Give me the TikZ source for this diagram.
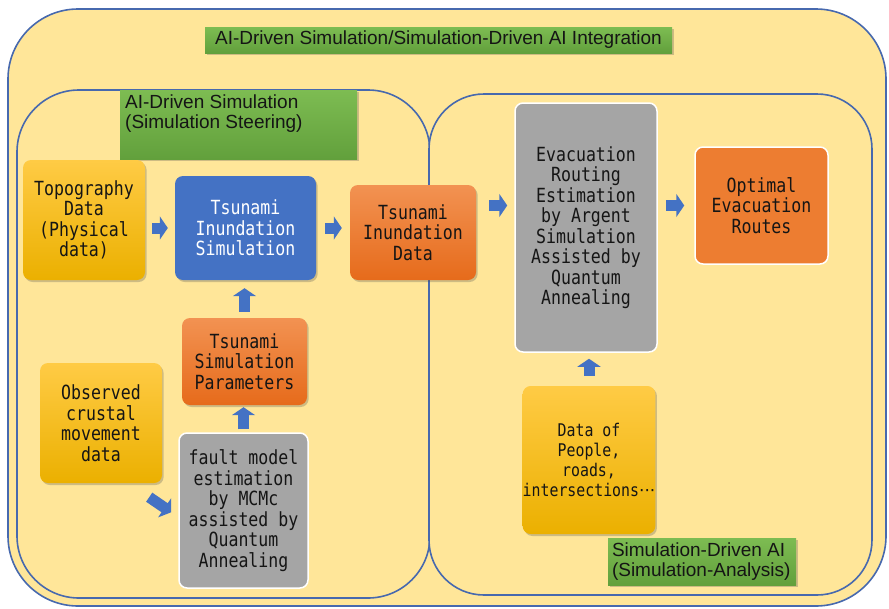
\documentclass[tikz,border=0pt]{standalone}
\usepackage{fontspec}
\setmainfont{Liberation Sans}
\newfontfamily\boxfont{DejaVu Sans Mono}[FakeStretch=0.85]
\newfontfamily\dotfont{DejaVu Sans}
\usetikzlibrary{arrows.meta,shadows,calc}

\definecolor{bgyellow}{HTML}{FFE699}
\definecolor{framecol}{HTML}{4769AE}
\definecolor{arrowblue}{HTML}{4472C4}
\definecolor{greentop}{HTML}{7DBC52}
\definecolor{greenbot}{HTML}{62A03C}
\definecolor{goldtop}{HTML}{FFCB45}
\definecolor{goldbot}{HTML}{EBB000}
\definecolor{orangetop}{HTML}{F29252}
\definecolor{orangebot}{HTML}{E66B1B}
\definecolor{orangeflat}{HTML}{ED7D31}
\definecolor{grayfill}{HTML}{A5A5A5}
\definecolor{bluefill}{HTML}{4472C4}
\definecolor{inktext}{HTML}{151515}

\tikzset{
  frame/.style={draw=framecol, line width=1.6pt, fill=bgyellow},
  softshadow/.style={drop shadow={opacity=0.28, shadow xshift=1.6pt, shadow yshift=-2pt, fill=black!70}},
  procbox/.style={rounded corners=8pt, align=center, inner sep=0pt,
    text=inktext, font=\boxfont\fontsize{19.5}{20.5}\selectfont},
  goldbox/.style={procbox, softshadow, top color=goldtop, bottom color=goldbot},
  orangebox/.style={procbox, softshadow, top color=orangetop, bottom color=orangebot},
  bluebox/.style={procbox, softshadow, fill=bluefill, text=white},
  graybox/.style={procbox, fill=grayfill, draw=white, line width=1.5pt},
  greenlabel/.style={softshadow, top color=greentop, bottom color=greenbot, inner sep=0pt},
  labeltext/.style={align=left, inner sep=0pt, text=inktext, font=\fontsize{19}{20}\selectfont},
  blockarrow/.style={draw=arrowblue, line width=11pt,
    -{Triangle[length=8pt, width=23pt]}},
}

\begin{document}
\begin{tikzpicture}[x=1pt, y=-1pt]
\useasboundingbox (0,0) rectangle (889,608);

% containers
\draw[frame, rounded corners=70pt] (8,9) rectangle (886,606);
\draw[frame, rounded corners=62pt] (17,90) rectangle (430,598);
\draw[frame, rounded corners=55pt] (429,94) rectangle (872,595);

% section titles
\node[greenlabel, minimum width=467pt, minimum height=26pt] (title) at (438.5,40) {};
\node[labeltext] (titletext) at (title.center) {AI-Driven Simulation/Simulation-Driven AI Integration};

\node[greenlabel, minimum width=237pt, minimum height=69pt, anchor=north west] (steer) at (120,90) {};
\node[labeltext, anchor=north west] (steertext) at ([shift={(5,5)}]steer.north west)
  {AI-Driven Simulation\\(Simulation Steering)};

% left part: simulation steering
\node[goldbox, minimum width=122pt, minimum height=120pt] (topo) at (84,220)
  {Topography\\Data\\(Physical\\data)};
\node[bluebox, minimum width=141pt, minimum height=104pt] (sim) at (245.5,228)
  {Tsunami\\Inundation\\Simulation};
\node[orangebox, minimum width=125pt, minimum height=87pt] (params) at (244.5,361.5)
  {Tsunami\\Simulation\\Parameters};
\node[goldbox, minimum width=122pt, minimum height=120pt] (obs) at (101,423)
  {Observed\\crustal\\movement\\data};
\node[graybox, minimum width=129pt, minimum height=155pt] (fault) at (243.5,510.5)
  {fault model\\estimation\\by MCMc\\assisted by\\Quantum\\Annealing};

% shared result
\node[orangebox, minimum width=126pt, minimum height=95pt] (data) at (413,232.5)
  {Tsunami\\Inundation\\Data};

% right part: simulation analysis
\node[graybox, minimum width=142pt, minimum height=249pt] (evac) at (586,227.5)
  {Evacuation\\Routing\\Estimation\\by Argent\\Simulation\\Assisted by\\Quantum\\Annealing};
\node[procbox, fill=orangeflat, draw=white, line width=1.5pt,
  minimum width=133pt, minimum height=117pt] (opt) at (761.5,205.5)
  {Optimal\\Evacuation\\Routes};
\node[goldbox, minimum width=126pt, minimum height=148pt,
  font=\boxfont\fontsize{17.5}{20}\selectfont] (people) at (589,460)
  {Data of\\People,\\roads,\\intersections{\dotfont\fontsize{17}{20}\selectfont ···}};

\node[greenlabel, minimum width=188pt, minimum height=47pt] (analysis) at (702,561.5) {};
\node[labeltext, anchor=west] (analysistext) at ([xshift=4pt]analysis.west)
  {Simulation-Driven AI\\(Simulation-Analysis)};

% flow arrows
\draw[blockarrow, shorten <=7pt, shorten >=7pt] (topo.east |- sim.west) -- (sim.west);
\draw[blockarrow, shorten <=9pt, shorten >=8pt] (sim.east) -- (sim.east -| data.west);
\draw[blockarrow, shorten <=13pt, shorten >=7pt] (data.east |- opt.west) -- (evac.west |- opt.west);
\draw[blockarrow, shorten <=8pt, shorten >=10pt] (evac.east |- opt.west) -- (opt.west);
\draw[blockarrow, shorten <=6pt, shorten >=8pt] (params.north) -- (params.north |- sim.south);
\draw[blockarrow, shorten <=3pt, shorten >=2pt] (fault.north) -- (fault.north |- params.south);
\draw[blockarrow, shorten <=10pt, shorten >=6pt] (people.north) -- (people.north |- evac.south);
\draw[blockarrow] ([shift={(-13,14)}]obs.south east) -- ([shift={(-7,80)}]fault.north west);
\end{tikzpicture}
\end{document}
